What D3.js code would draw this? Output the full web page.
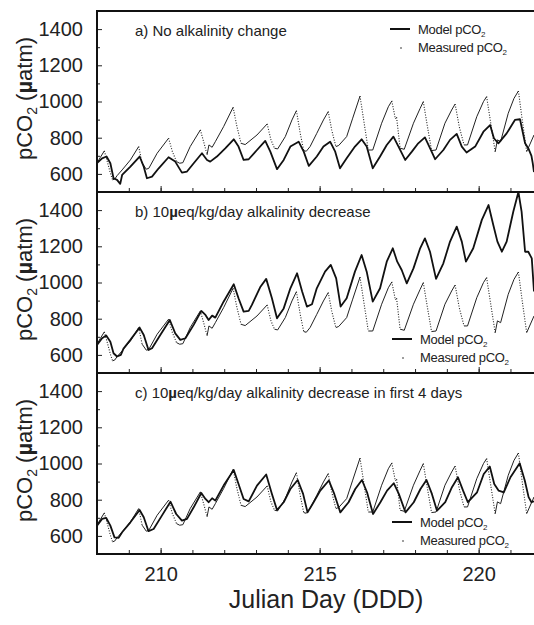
<!DOCTYPE html>
<html><head><meta charset="utf-8">
<script src="https://cdn.jsdelivr.net/npm/d3@7"></script>
<style>
body{margin:0;background:#fff}
svg{display:block}
text{font-family:"Liberation Sans",Arial,Helvetica,sans-serif;fill:#222}
</style>
</head><body>
<svg id="chart" width="534" height="625"></svg>
<script>
// ---- data (Julian day, pCO2 µatm) ----
const measured = [[208.00,659],[208.10,690],[208.23,727],[208.31,677],[208.42,604],[208.49,567],[208.56,572],[208.63,590],[208.79,622],[209.05,677],[209.31,751],[209.42,659],[209.55,626],[209.63,631],[209.89,714],[210.25,797],[210.37,723],[210.50,668],[210.60,659],[210.70,662],[210.93,751],[211.25,843],[211.38,760],[211.46,705],[211.52,760],[211.62,747],[211.72,778],[211.98,861],[212.28,968],[212.40,861],[212.53,769],[212.66,762],[213.03,815],[213.35,876],[213.47,788],[213.58,742],[213.68,738],[213.92,806],[214.13,898],[214.27,949],[214.39,824],[214.50,729],[214.58,725],[214.70,751],[214.91,824],[215.12,898],[215.27,944],[215.38,843],[215.51,751],[215.60,757],[215.85,806],[216.04,908],[216.27,1030],[216.40,880],[216.53,732],[216.67,732],[216.95,880],[217.16,971],[217.27,1003],[217.38,905],[217.42,912],[217.53,742],[217.66,736],[217.95,880],[218.16,962],[218.26,999],[218.39,861],[218.52,729],[218.66,732],[218.94,880],[219.15,953],[219.26,986],[219.39,861],[219.54,760],[219.65,760],[219.94,916],[220.15,999],[220.25,1027],[220.38,880],[220.52,723],[220.59,788],[220.69,778],[220.93,935],[221.11,1017],[221.25,1058],[221.37,898],[221.51,723],[221.74,815]];

const modelA = [[208.00,659],[208.16,686],[208.30,696],[208.42,659],[208.52,576],[208.63,567],[208.73,545],[208.79,594],[209.05,640],[209.34,696],[209.47,640],[209.57,576],[209.73,585],[209.94,631],[210.25,692],[210.46,668],[210.67,607],[210.83,613],[211.04,659],[211.30,714],[211.46,677],[211.56,668],[211.77,696],[212.04,742],[212.30,791],[212.45,751],[212.61,677],[212.77,681],[213.03,732],[213.29,782],[213.45,723],[213.66,626],[213.87,677],[214.08,751],[214.34,778],[214.50,723],[214.66,644],[214.91,696],[215.12,751],[215.33,778],[215.49,723],[215.64,631],[215.85,686],[216.11,751],[216.32,791],[216.48,751],[216.67,631],[216.90,696],[217.11,760],[217.32,806],[217.48,751],[217.69,677],[217.90,723],[218.10,769],[218.31,802],[218.47,742],[218.63,681],[218.89,732],[219.10,788],[219.31,821],[219.47,751],[219.62,718],[219.89,751],[220.15,833],[220.36,870],[220.48,797],[220.62,769],[220.88,824],[221.14,898],[221.30,902],[221.46,769],[221.56,742],[221.66,700],[221.70,659],[221.74,610]];

const modelB = [[208.00,655],[208.16,692],[208.29,707],[208.42,673],[208.52,609],[208.63,591],[208.75,600],[208.84,637],[209.05,683],[209.34,751],[209.47,710],[209.62,627],[209.73,637],[209.99,710],[210.29,793],[210.46,719],[210.62,683],[210.78,692],[211.04,766],[211.28,843],[211.41,821],[211.51,793],[211.62,817],[211.72,806],[211.98,894],[212.30,990],[212.45,913],[212.61,839],[212.77,843],[212.87,876],[213.14,977],[213.32,1020],[213.50,913],[213.66,802],[213.87,857],[214.08,968],[214.29,1051],[214.45,950],[214.60,867],[214.76,880],[214.91,968],[215.17,1060],[215.35,1097],[215.52,1023],[215.66,867],[215.85,913],[216.11,1060],[216.32,1152],[216.48,1060],[216.67,894],[216.90,968],[217.11,1115],[217.30,1189],[217.44,1115],[217.58,1069],[217.74,995],[217.95,1078],[218.16,1189],[218.31,1244],[218.47,1170],[218.66,1020],[218.89,1106],[219.10,1226],[219.31,1309],[219.47,1226],[219.60,1115],[219.83,1189],[220.10,1346],[220.31,1428],[220.46,1318],[220.59,1226],[220.73,1170],[220.88,1226],[221.09,1392],[221.25,1500],[221.35,1392],[221.46,1170],[221.56,1170],[221.67,1133],[221.74,950]];

const modelC = [[208.00,657],[208.16,694],[208.29,699],[208.42,657],[208.55,592],[208.68,589],[208.79,620],[209.05,675],[209.34,743],[209.47,703],[209.62,626],[209.78,638],[210.04,712],[210.31,789],[210.49,721],[210.67,684],[210.83,694],[211.04,758],[211.28,837],[211.41,804],[211.51,786],[211.62,808],[211.72,795],[211.98,878],[212.30,964],[212.45,887],[212.61,804],[212.77,791],[213.03,878],[213.32,939],[213.50,832],[213.66,743],[213.87,786],[214.08,859],[214.31,909],[214.48,832],[214.62,730],[214.81,786],[215.02,850],[215.29,906],[215.46,832],[215.65,730],[215.91,786],[216.12,859],[216.33,909],[216.49,841],[216.68,721],[216.91,786],[217.12,850],[217.33,891],[217.49,832],[217.70,730],[217.96,786],[218.17,859],[218.36,909],[218.53,832],[218.69,739],[218.95,786],[219.16,869],[219.35,924],[219.51,850],[219.66,786],[219.95,841],[220.16,942],[220.35,983],[220.49,887],[220.63,850],[220.79,841],[221.00,924],[221.29,1001],[221.45,906],[221.57,814],[221.66,786],[221.74,791]];

const yLabelTicks = [600, 800, 1000, 1200, 1400];
const yMinorTicks = [500, 700, 900, 1100, 1300, 1500];
const xDayTicks = [208, 209, 210, 211, 212, 213, 214, 215, 216, 217, 218, 219, 220, 221];
const xLabelTicks = [210, 215, 220];
const panelTitles = [
  ["a) No alkalinity change"],
  ["b) 10", "µ", "eq/kg/day alkalinity decrease"],
  ["c) 10", "µ", "eq/kg/day alkalinity decrease in first 4 days"]
];
const models = [modelA, modelB, modelC];

// ---- layout ----
const svg = d3.select("#chart");
const L = 97, R = 534, H = 181;
const tops = [11, 192, 373];
const legendPos = [{x:390, y:29}, {x:392, y:339}, {x:392, y:522}];

const x = d3.scaleLinear().domain([208, 221.74]).range([L, R]);

function measuredSegments(data){
  const out = [];
  let cur = [data[0]], curSteep = null;
  for (let i = 1; i < data.length; i++){
    const a = data[i-1], b = data[i];
    const steep = (b[1]-a[1])/(b[0]-a[0]) < -400;
    if (curSteep === null) curSteep = steep;
    if (steep !== curSteep){
      out.push({pts: cur, steep: curSteep});
      cur = [a]; curSteep = steep;
    }
    cur.push(b);
  }
  out.push({pts: cur, steep: curSteep});
  return out;
}

tops.forEach((top, i) => {
  const y = d3.scaleLinear().domain([500, 1500]).range([top + H, top]);
  const g = svg.append("g");
  const clipId = "clip" + i;
  svg.append("clipPath").attr("id", clipId)
    .append("rect").attr("x", L).attr("y", top).attr("width", R - L).attr("height", H);

  const line = d3.line().x(d => x(d[0])).y(d => y(d[1]));
  const plot = g.append("g").attr("clip-path", `url(#${clipId})`);

  // measured
  measuredSegments(measured).forEach(s => {
    plot.append("path").datum(s.pts).attr("d", line)
      .attr("fill", "none").attr("stroke", "#222")
      .attr("stroke-width", s.steep ? 1.1 : 1)
      .attr("stroke-dasharray", s.steep ? "1,1.6" : null)
      .attr("stroke-linejoin", "round");
  });
  // model
  plot.append("path").datum(models[i]).attr("d", line)
    .attr("fill", "none").attr("stroke", "#111")
    .attr("stroke-width", 1.8).attr("stroke-linejoin", "round");

  // y axis: labelled ticks
  const ya = g.append("g").attr("transform", `translate(${L},0)`)
    .call(d3.axisLeft(y).tickValues(yLabelTicks).tickSize(-5).tickPadding(14).tickFormat(d3.format("d")));
  ya.select(".domain").remove();
  ya.selectAll("text").attr("font-size", 20).attr("font-family", "Liberation Sans, Arial, sans-serif").attr("fill", "#222");
  ya.selectAll("line").attr("stroke", "#222");
  const ym = g.append("g").attr("transform", `translate(${L},0)`)
    .call(d3.axisLeft(y).tickValues(yMinorTicks).tickSize(-3).tickFormat(""));
  ym.select(".domain").remove();
  ym.selectAll("line").attr("stroke", "#222");

  // x axis ticks (inward)
  const xa = g.append("g").attr("transform", `translate(0,${top + H})`)
    .call(d3.axisBottom(x).tickValues(xDayTicks).tickSize(-4).tickFormat(""));
  xa.select(".domain").remove();
  xa.selectAll("line").attr("stroke", "#222");
  const xm = g.append("g").attr("transform", `translate(0,${top + H})`)
    .call(d3.axisBottom(x).tickValues(xLabelTicks).tickSize(-6).tickPadding(13)
      .tickFormat(i === 2 ? d3.format("d") : ""));
  xm.select(".domain").remove();
  xm.selectAll("line").attr("stroke", "#222");
  xm.selectAll("text").attr("font-size", 20).attr("font-family", "Liberation Sans, Arial, sans-serif").attr("fill", "#222");

  // frame
  g.append("rect").attr("x", L).attr("y", top).attr("width", R - L + 5).attr("height", H)
    .attr("fill", "none").attr("stroke", "#111").attr("stroke-width", 2);

  // title
  const t = g.append("text").attr("x", 135).attr("y", top + 25).attr("font-size", 15);
  panelTitles[i].forEach((part, k) => {
    t.append("tspan").text(part).attr("font-weight", k === 1 ? "bold" : null);
  });

  // y label
  const yl = g.append("text")
    .attr("transform", `translate(32,${top + H/2 - 3}) rotate(-90)`)
    .attr("text-anchor", "middle").attr("font-size", 22);
  yl.append("tspan").text("pCO");
  yl.append("tspan").text("2").attr("font-size", 14).attr("dy", 5);
  yl.append("tspan").text(" (").attr("dy", -5);
  yl.append("tspan").text("µ").attr("font-weight", "bold");
  yl.append("tspan").text("atm)");

  // legend
  const lp = legendPos[i];
  const lg = g.append("g");
  lg.append("line").attr("x1", lp.x).attr("x2", lp.x + 20).attr("y1", lp.y).attr("y2", lp.y)
    .attr("stroke", "#111").attr("stroke-width", 2);
  lg.append("circle").attr("cx", lp.x + 11).attr("cy", lp.y + 19).attr("r", 0.8).attr("fill", "#222");
  const lt1 = lg.append("text").attr("x", lp.x + 28).attr("y", lp.y + 5).attr("font-size", 13).attr("letter-spacing", -0.3);
  lt1.append("tspan").text("Model pCO");
  lt1.append("tspan").text("2").attr("font-size", 8).attr("dy", 3);
  const lt2 = lg.append("text").attr("x", lp.x + 28).attr("y", lp.y + 23).attr("font-size", 13).attr("letter-spacing", -0.3);
  lt2.append("tspan").text("Measured pCO");
  lt2.append("tspan").text("2").attr("font-size", 8).attr("dy", 3);
});

// x axis title
svg.append("text").attr("x", 326).attr("y", 608).attr("text-anchor", "middle")
  .attr("font-size", 25).text("Julian Day (DDD)");
</script>
</body></html>
